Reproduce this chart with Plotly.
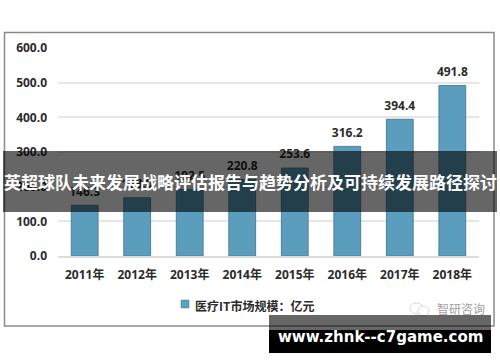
import plotly.graph_objects as go

categories = ["2011年", "2012年", "2013年", "2014年", "2015年", "2016年", "2017年", "2018年"]
values = [146.3, 168.0, 192.5, 220.8, 253.6, 316.2, 394.4, 491.8]
value_labels = ["146.3", "168.0", "192.5", "220.8", "253.6", "316.2", "394.4", "491.8"]
y_ticks = [0, 100, 200, 300, 400, 500, 600]
y_tick_labels = ["0.0", "100.0", "200.0", "300.0", "400.0", "500.0", "600.0"]
series_name = "医疗IT市场规模：亿元"
banner = "英超球队未来发展战略评估报告与趋势分析及可持续发展路径探讨"
site = "www.zhnk--c7game.com"
brand = "智研咨询"

FONT = "Open Sans, Noto Sans CJK SC"
CJK = "Noto Sans CJK SC"
INK = "#2b2b2b"
W, H = 500, 362
L, R, T, B = 58, 479, 48, 256


def fx(v):
    return (v - L) / (R - L)


def fy(v):
    return (B - v) / (B - T)


def box(x0, y0, x1, y1):
    return dict(xref="paper", yref="paper", x0=fx(x0), x1=fx(x1), y0=fy(y0), y1=fy(y1))


def note(text, x, y, size, color, family=CJK, anchor="center"):
    return dict(text=text, xref="paper", yref="paper", x=fx(x), y=fy(y), xanchor=anchor, yanchor="middle",
                showarrow=False, font=dict(size=size, color=color, family=family))


fig = go.Figure()
fig.add_trace(go.Bar(
    x=categories, y=values, name=series_name,
    marker=dict(color="#5b9dbd", line=dict(color="#4d8299", width=1)),
    showlegend=False,
))
fig.add_trace(go.Scatter(
    x=categories, y=values, mode="markers+text", text=value_labels, textposition="top center",
    marker=dict(size=9, color="rgba(0,0,0,0)"), cliponaxis=False, showlegend=False, hoverinfo="skip",
    textfont=dict(size=12, color=INK, family=FONT, weight=700),
))

shapes = [
    dict(type="rect", layer="below", line=dict(color="#8a8a8a", width=1.5), fillcolor="white", **box(4.5, 32.5, 494, 326)),
    dict(type="rect", layer="above", line=dict(color="#4d8299", width=0.5), fillcolor="#5b9dbd", **box(181, 300, 189, 308)),
    dict(type="circle", layer="above", line=dict(color="#d8d8d8", width=1), fillcolor="white", **box(410, 303, 423, 314)),
    dict(type="circle", layer="above", line=dict(color="#d8d8d8", width=1), fillcolor="white", **box(418, 306, 429, 316)),
    dict(type="rect", layer="above", line=dict(width=0), fillcolor="rgba(0,0,0,0.6)", **box(3, 151, 497, 212)),
    dict(type="rect", layer="above", line=dict(width=0), fillcolor="rgba(0,0,0,0.6)", **box(269, 315, 491, 330)),
    dict(type="rect", layer="above", line=dict(width=0), fillcolor="black", **box(269, 330, 491, 353)),
]
annotations = [
    note(f"<b>{series_name}</b>", 193, 305, 12, INK, anchor="left"),
    note(brand, 461, 308, 12, "#a0a0a0"),
    note(f"<b>{banner}</b>", 250, 181, 17, "white"),
    note(f"<b>{site}</b>", 380, 337, 15, "white", family="DejaVu Sans"),
]
fig.update_layout(
    width=W, height=H, autosize=False, paper_bgcolor="white", plot_bgcolor="rgba(0,0,0,0)",
    margin=dict(l=L, r=W - R, t=T, b=H - B, pad=0),
    font=dict(family=FONT, color=INK),
    bargap=0.49,
    shapes=shapes, annotations=annotations,
)
fig.update_xaxes(showgrid=False, ticks="", showline=True, linecolor="#dcdcdc", linewidth=1.5,
                 tickfont=dict(size=12, color=INK, family=FONT, weight=700), ticklabelstandoff=7)
fig.update_yaxes(range=[0, 600], tickvals=y_ticks, ticktext=y_tick_labels, showgrid=True, gridcolor="#e6e6e6", gridwidth=1.5,
                 zeroline=False, ticks="", showline=False, ticklabelstandoff=10,
                 tickfont=dict(size=12, color=INK, family=FONT, weight=700))
fig.write_html("out.html", config={"displayModeBar": False},
               post_script="document.body.style.margin='0';document.body.style.overflow='hidden';")
